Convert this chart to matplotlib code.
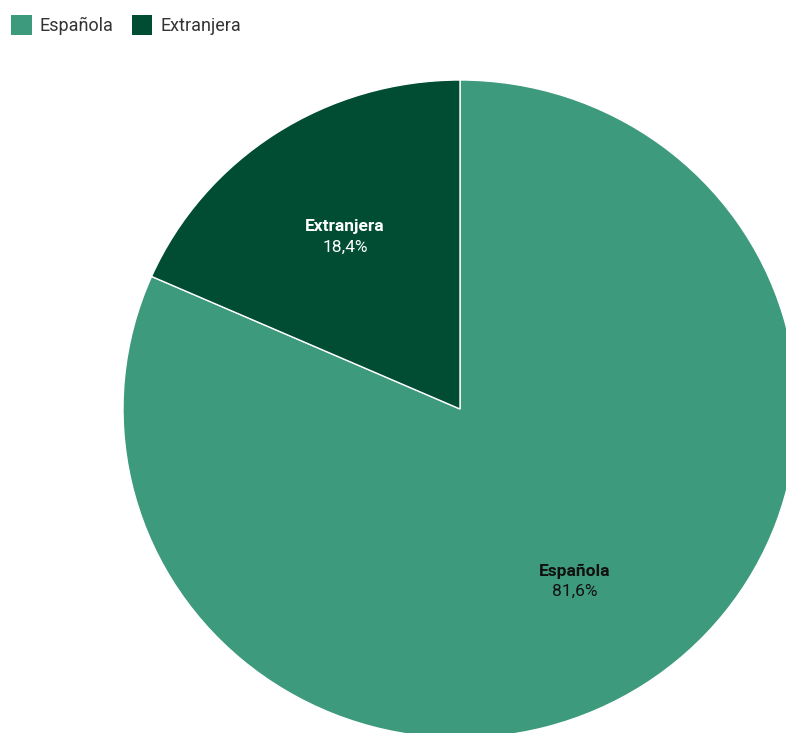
import matplotlib.pyplot as plt
from matplotlib.patches import Patch
import numpy as np

plt.rcParams['font.family'] = ['Roboto', 'DejaVu Sans']

# share of population by nationality
categories = ['Española', 'Extranjera']
shares = [81.6, 18.4]
colors = ['#3e9a7c', '#004d33']
text_colors = ['#111111', '#ffffff']

fig = plt.figure(figsize=(7.86, 7.33), dpi=100)
W, H = 786, 733
cx, cy = 460, 409
rx, ry = 337, 329
ax = fig.add_axes([(cx - rx) / W, (H - cy - ry) / H, 2 * rx / W, 2 * ry / H])

wedges, _ = ax.pie(shares, colors=colors, startangle=90, counterclock=False,
                   wedgeprops=dict(edgecolor='white', linewidth=1))
ax.set_aspect('auto')
ax.set_xlim(-1, 1)
ax.set_ylim(-1, 1)

for w, name, val, tc in zip(wedges, categories, shares, text_colors):
    mid = np.deg2rad((w.theta1 + w.theta2) / 2)
    x, y = 0.625 * np.cos(mid), 0.625 * np.sin(mid)
    ax.text(x, y + 0.03, name, ha='center', va='center', fontsize=12.5,
            fontweight='bold', color=tc)
    ax.text(x, y - 0.031, f'{val:.1f}%'.replace('.', ','), ha='center',
            va='center', fontsize=12.5, color=tc)

handles = [Patch(facecolor=c, edgecolor='none') for c in colors]
fig.legend(handles, categories, loc='upper left',
           bbox_to_anchor=(0.0, 1 - 4 / H), ncol=2, frameon=False,
           fontsize=13, handlelength=1.15, handleheight=1.3,
           handletextpad=0.45, columnspacing=1.0, borderaxespad=0.2,
           borderpad=0.4, labelcolor='#333333')

fig.savefig('out.png', dpi=100)
